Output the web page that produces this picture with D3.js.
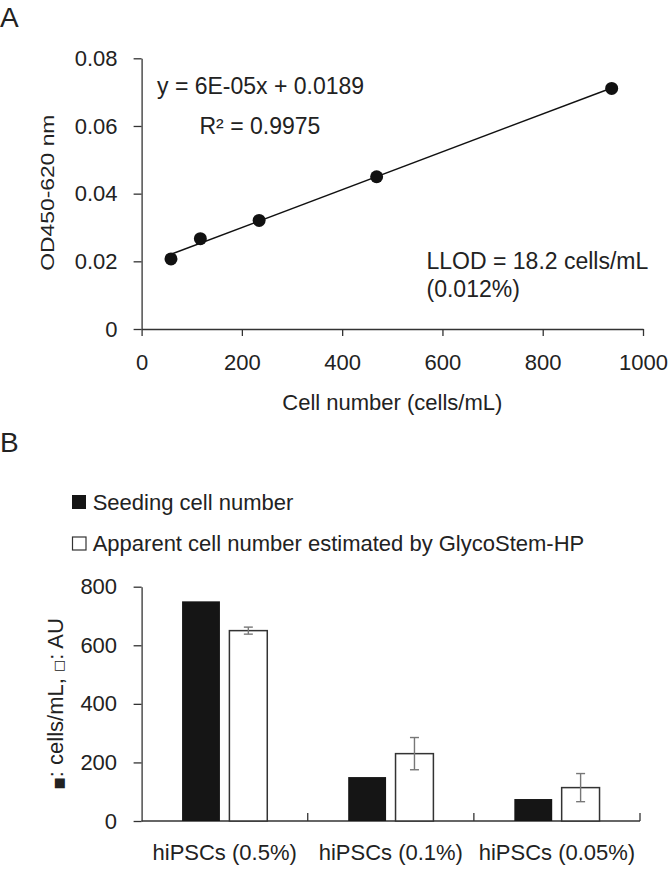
<!DOCTYPE html>
<html><head><meta charset="utf-8">
<script src="https://cdn.jsdelivr.net/npm/d3@7"></script>
<style>
html,body{margin:0;padding:0;background:#fff;}
text{font-family:"Liberation Sans",Arial,sans-serif;fill:#222;}
</style></head>
<body>
<svg id="chart" width="669" height="870"></svg>
<script>
// ---------- Panel A data ----------
const cellNumbers = [58.6, 117.2, 234.4, 468.75, 937.5];
const odValues    = [0.0207, 0.0267, 0.0321, 0.0450, 0.0711];
const xTicksA = [0, 200, 400, 600, 800, 1000];
const yTicksA = [0, 0.02, 0.04, 0.06, 0.08];
const equationText = "y = 6E-05x + 0.0189";
const r2Text = "R² = 0.9975";
const llodLines = ["LLOD = 18.2 cells/mL", "(0.012%)"];

// ---------- Panel B data ----------
const categories = ["hiPSCs (0.5%)", "hiPSCs (0.1%)", "hiPSCs (0.05%)"];
const seriesNames = ["Seeding cell number", "Apparent cell number estimated by GlycoStem-HP"];
const seedingValues = [750, 150, 75];
const apparentValues = [650, 230, 114];
const apparentErrors = [12, 55, 48];
const yTicksB = [0, 200, 400, 600, 800];

const svg = d3.select("#chart");
const axisColor = "#333";

// ================= Panel A =================
const xA = d3.scaleLinear().domain([0, 1000]).range([141.6, 643]);
const yA = d3.scaleLinear().domain([0, 0.08]).range([329, 58.3]);

svg.append("text").attr("x", 0).attr("y", 27).style("font-size", "28px").text("A");

const gAy = svg.append("g").attr("transform", `translate(${xA(0)},0)`)
  .call(d3.axisLeft(yA).tickValues(yTicksA).tickSize(8).tickSizeOuter(0).tickPadding(16)
    .tickFormat(d => d === 0 ? "0" : d.toFixed(2)));
const gAx = svg.append("g").attr("transform", `translate(0,${yA(0)})`)
  .call(d3.axisBottom(xA).tickValues(xTicksA).tickSize(7).tickSizeOuter(0).tickPadding(18)
    .tickFormat(d3.format("d")));
[gAy, gAx].forEach(g => {
  g.selectAll("path,line").attr("stroke", axisColor).attr("stroke-width", 1.3);
  g.selectAll("text").style("font-size", "22px").attr("fill", "#222")
    .style("font-family", '"Liberation Sans",Arial,sans-serif');
});

// regression line (least squares)
const mx = d3.mean(cellNumbers), my = d3.mean(odValues);
let sxy = 0, sxx = 0;
cellNumbers.forEach((x, i) => { sxy += (x - mx) * (odValues[i] - my); sxx += (x - mx) * (x - mx); });
const slope = sxy / sxx, intercept = my - slope * mx;
const xmin = d3.min(cellNumbers), xmax = d3.max(cellNumbers);
svg.append("line")
  .attr("x1", xA(xmin)).attr("y1", yA(intercept + slope * xmin))
  .attr("x2", xA(xmax)).attr("y2", yA(intercept + slope * xmax))
  .attr("stroke", "#111").attr("stroke-width", 1.4);

svg.selectAll("circle.pt").data(cellNumbers).enter().append("circle")
  .attr("class", "pt")
  .attr("cx", d => xA(d)).attr("cy", (d, i) => yA(odValues[i]))
  .attr("r", 6.5).attr("fill", "#111");

svg.append("text").attr("x", 157).attr("y", 94).style("font-size", "23px").text(equationText);
svg.append("text").attr("x", 199.5).attr("y", 134).style("font-size", "23px").text(r2Text);
llodLines.forEach((t, i) => {
  svg.append("text").attr("x", 426.5).attr("y", 268.5 + i * 28.5).style("font-size", "23px").text(t);
});

svg.append("text").attr("x", (xA(0) + xA(1000)) / 2).attr("y", 410)
  .attr("text-anchor", "middle").style("font-size", "22px").text("Cell number (cells/mL)");
svg.append("text")
  .attr("transform", `translate(54,${(yA(0) + yA(0.08)) / 2 - 1}) rotate(-90)`)
  .attr("text-anchor", "middle").style("font-size", "18px")
  .attr("textLength", 156).attr("lengthAdjust", "spacingAndGlyphs")
  .text("OD450-620 nm");

// ================= Panel B =================
svg.append("text").attr("x", 0).attr("y", 452).style("font-size", "28px").text("B");

// legend
svg.append("rect").attr("x", 72).attr("y", 495).attr("width", 14).attr("height", 14).attr("fill", "#151515");
svg.append("text").attr("x", 92.7).attr("y", 509.5).style("font-size", "22px").text(seriesNames[0]);
svg.append("rect").attr("x", 72.5).attr("y", 537).attr("width", 13.5).attr("height", 13)
  .attr("fill", "#fff").attr("stroke", "#333").attr("stroke-width", 1.2);
svg.append("text").attr("x", 92.7).attr("y", 551).style("font-size", "22px").text(seriesNames[1]);

const xB = d3.scaleBand().domain(categories).range([141.6, 640]).paddingInner(0).paddingOuter(0);
const bw = xB.bandwidth();
const xSub = d3.scaleBand().domain(["seed", "app"]).range([bw / 2 - 42.6, bw / 2 + 42.6]).paddingInner(0.2);
const yB = d3.scaleLinear().domain([0, 800]).range([821, 586.7]);

const gBy = svg.append("g").attr("transform", `translate(${xB.range()[0]},0)`)
  .call(d3.axisLeft(yB).tickValues(yTicksB).tickSize(8).tickSizeOuter(0).tickPadding(16.5)
    .tickFormat(d3.format("d")));
gBy.selectAll("path,line").attr("stroke", axisColor).attr("stroke-width", 1.3);
gBy.selectAll("text").style("font-size", "22px").attr("fill", "#222")
  .style("font-family", '"Liberation Sans",Arial,sans-serif');

// x-axis baseline and inward ticks at category boundaries
svg.append("line").attr("x1", xB.range()[0]).attr("x2", xB.range()[1])
  .attr("y1", yB(0)).attr("y2", yB(0)).attr("stroke", axisColor).attr("stroke-width", 1.3);
svg.selectAll("line.btick").data(categories).enter().append("line")
  .attr("class", "btick")
  .attr("x1", d => xB(d) + bw).attr("x2", d => xB(d) + bw)
  .attr("y1", yB(0)).attr("y2", yB(0) - 8)
  .attr("stroke", axisColor).attr("stroke-width", 1.3);

// bars
svg.selectAll("rect.seed").data(categories).enter().append("rect")
  .attr("class", "seed")
  .attr("x", d => xB(d) + xSub("seed")).attr("width", xSub.bandwidth())
  .attr("y", (d, i) => yB(seedingValues[i])).attr("height", (d, i) => yB(0) - yB(seedingValues[i]))
  .attr("fill", "#151515");
svg.selectAll("rect.app").data(categories).enter().append("rect")
  .attr("class", "app")
  .attr("x", d => xB(d) + xSub("app")).attr("width", xSub.bandwidth())
  .attr("y", (d, i) => yB(apparentValues[i])).attr("height", (d, i) => yB(0) - yB(apparentValues[i]))
  .attr("fill", "#fff").attr("stroke", "#333").attr("stroke-width", 1.5);

// error bars
const errG = svg.append("g").attr("stroke", "#777").attr("stroke-width", 1.4);
categories.forEach((c, i) => {
  const cx = xB(c) + xSub("app") + xSub.bandwidth() / 2;
  const top = yB(apparentValues[i] + apparentErrors[i]);
  const bot = yB(apparentValues[i] - apparentErrors[i]);
  errG.append("line").attr("x1", cx).attr("x2", cx).attr("y1", top).attr("y2", bot);
  errG.append("line").attr("x1", cx - 4.5).attr("x2", cx + 4.5).attr("y1", top).attr("y2", top);
  errG.append("line").attr("x1", cx - 4.5).attr("x2", cx + 4.5).attr("y1", bot).attr("y2", bot);
});

// category labels
svg.selectAll("text.cat").data(categories).enter().append("text")
  .attr("class", "cat")
  .attr("x", d => xB(d) + bw / 2).attr("y", 860)
  .attr("text-anchor", "middle").style("font-size", "22px").text(d => d);

// y title
const yt = svg.append("text")
  .attr("transform", `translate(63,${(yB(0) + yB(800)) / 2}) rotate(-90)`)
  .attr("text-anchor", "middle").style("font-size", "22px");
yt.append("tspan").style("font-size", "13px").style("font-family", '"DejaVu Sans",sans-serif').text("■");
yt.append("tspan").text(": cells/mL, ");
yt.append("tspan").style("font-size", "13px").style("font-family", '"DejaVu Sans",sans-serif').text("□");
yt.append("tspan").text(": AU");
</script>
</body></html>
